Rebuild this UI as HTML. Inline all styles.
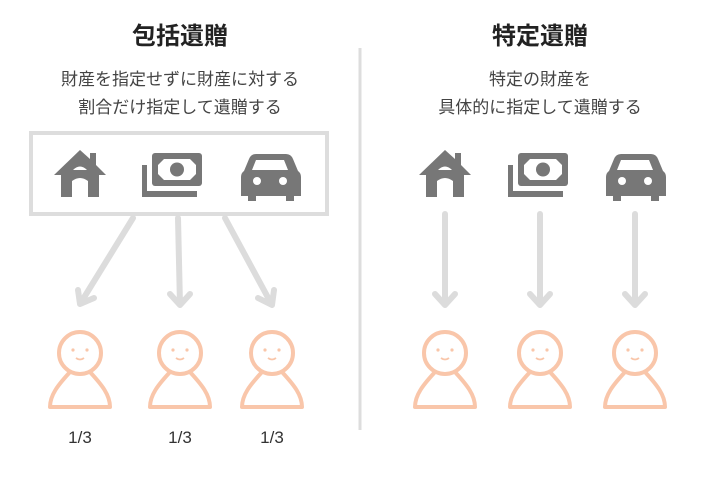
<!DOCTYPE html>
<html><head><meta charset="utf-8"><style>
body{margin:0;background:#fff;}
svg{display:block}
text{font-family:"Liberation Sans","Noto Sans CJK JP",sans-serif;}
</style></head><body>
<svg width="720" height="480" viewBox="0 0 720 480">
<defs>
<g id="house" fill="#777">
<path d="M0,-25 L-26,0 L-19,0 L-19,22 L-8,22 L-8,6 Q0,0 8,6 L8,22 L19,22 L19,0 L26,0 L16,-10 L16,-22 L10,-22 L10,-16 Z"/>
<path d="M-7,-5 Q0,-12 7,-5 Z" fill="#fff"/>
</g>
<g id="money" fill="#777">
<path d="M-30,-12 h5 v26 h50 v6 h-55 Z"/>
<rect x="-20" y="-24" width="50" height="33" rx="3"/>
<rect x="-14" y="-18" width="38" height="21" fill="#fff"/>
<path d="M-14,-18 h6 l-6,6 Z M24,-18 h-6 l6,6 Z M-14,3 h6 l-6,-6 Z M24,3 h-6 l6,-6 Z" fill="#777"/>
<circle cx="5" cy="-7.5" r="7"/>
</g>
<g id="car" fill="#777">
<path d="M-16,-22 h32 q5,0 7,5 l5,12 q3,2 3,6 v19 h-7 v5 h-8 v-5 h-30 v5 h-8 v-5 h-7 v-19 q0,-4 3,-6 l5,-12 q2,-5 7,-5 Z"/>
<path d="M-14,-16 h28 l4,10 h-36 Z" fill="#fff"/>
<circle cx="-13" cy="5" r="4" fill="#fff"/><circle cx="13" cy="5" r="4" fill="#fff"/>
</g>
<g id="person" fill="#fff" stroke="#f9c6aa" stroke-width="4" stroke-linejoin="round">
<path d="M-10,-3 C-22,10 -30,20 -30,32 L30,32 C30,20 22,10 10,-3"/>
<circle cx="0" cy="-22" r="21"/>
<circle cx="-7" cy="-25" r="1.6" fill="#f9c6aa" stroke="none"/>
<circle cx="7" cy="-25" r="1.6" fill="#f9c6aa" stroke="none"/>
<path d="M-4,-17 Q0,-14 4,-17" fill="none" stroke-width="1.8"/>
</g>
</defs>

<text x="180" y="44" font-size="24" font-weight="bold" text-anchor="middle" fill="#222">包括遺贈</text>
<text x="180" y="85" font-size="17" text-anchor="middle" fill="#444">財産を指定せずに財産に対する</text>
<text x="180" y="113" font-size="17" text-anchor="middle" fill="#444">割合だけ指定して遺贈する</text>

<text x="540" y="44" font-size="24" font-weight="bold" text-anchor="middle" fill="#222">特定遺贈</text>
<text x="540" y="85" font-size="17" text-anchor="middle" fill="#444">特定の財産を</text>
<text x="540" y="113" font-size="17" text-anchor="middle" fill="#444">具体的に指定して遺贈する</text>

<line x1="360" y1="48" x2="360" y2="430" stroke="#ddd" stroke-width="3"/>
<rect x="31" y="133" width="296" height="81" fill="none" stroke="#ddd" stroke-width="4"/>

<use href="#house" x="80" y="175"/>
<use href="#money" x="172" y="177"/>
<use href="#car" x="270" y="176"/>
<use href="#house" x="445" y="175"/>
<use href="#money" x="538" y="177"/>
<use href="#car" x="635" y="176"/>

<g fill="none" stroke="#dcdcdc" stroke-width="6" stroke-linecap="round" stroke-linejoin="round">
<path d="M133,218 L80,304 M78,290 L80,304 L94,298"/>
<path d="M178,218 L180,305 M170,294 L180,305 L190,294"/>
<path d="M225,218 L272,305 M258,298 L272,305 L274,290"/>
<path d="M445,214 L445,305 M435,294 L445,305 L455,294"/>
<path d="M540,214 L540,305 M530,294 L540,305 L550,294"/>
<path d="M635,214 L635,305 M625,294 L635,305 L645,294"/>
</g>

<use href="#person" x="80" y="375"/>
<use href="#person" x="180" y="375"/>
<use href="#person" x="272" y="375"/>
<use href="#person" x="445" y="375"/>
<use href="#person" x="540" y="375"/>
<use href="#person" x="635" y="375"/>

<text x="80" y="443" font-size="17" text-anchor="middle" fill="#333">1/3</text>
<text x="180" y="443" font-size="17" text-anchor="middle" fill="#333">1/3</text>
<text x="272" y="443" font-size="17" text-anchor="middle" fill="#333">1/3</text>
</svg>
</body></html>
